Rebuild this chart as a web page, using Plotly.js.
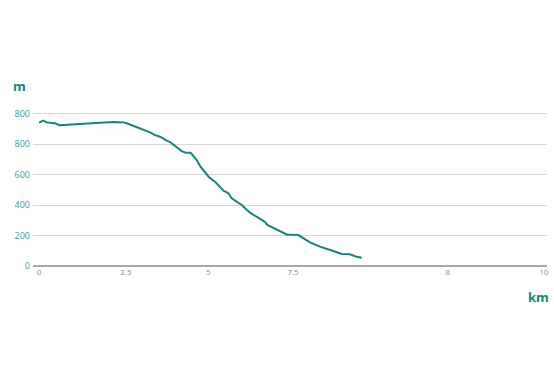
<!DOCTYPE html>
<html>
<head>
<meta charset="utf-8">
<script src="https://cdn.plot.ly/plotly-3.0.1.min.js"></script>
<style>html,body{margin:0;padding:0;background:#fff;}#chart{width:554px;height:369px;}</style>
</head>
<body>
<div id="chart"></div>
<script>
// distance (km) along axis
var distance = [0, 0.085, 0.152, 0.283, 0.317, 0.402, 0.481, 0.812, 1.208, 1.471, 1.669, 1.737, 2.0, 2.198, 2.297, 2.396, 2.529, 2.594, 2.832, 2.911, 3.004, 3.123, 3.188, 3.362, 3.485, 3.584, 3.650, 3.749, 3.816, 4.014, 4.178, 4.410, 4.475, 4.521, 4.772, 4.905, 5.135, 5.234, 5.366, 5.564, 5.697, 5.828, 5.994, 6.158, 6.291, 6.390];
// elevation (m)
var elevation = [940, 953, 942, 940, 936, 923, 925, 931, 940, 945, 942, 936, 903, 877, 858, 848, 822, 813, 752, 743, 742, 695, 656, 584, 553, 520, 495, 477, 444, 400, 350, 302, 289, 269, 232, 207, 203, 182, 155, 127, 110, 98, 79, 77, 60, 54];

var xTickVals = [0, 1.72, 3.35, 5.03, 8.09, 10];
var xTickText = ['0', '2.5', '5', '7.5', '8', '10'];
var yTickVals = [0, 200, 400, 600, 800, 1000];
var yTickText = ['0', '200', '400', '600', '800', '800'];

var teal = '#10857a';

var data = [{
  x: distance,
  y: elevation,
  type: 'scatter',
  mode: 'lines',
  line: {color: teal, width: 2, shape: 'linear'},
  hoverinfo: 'none'
}];

var layout = {
  width: 554,
  height: 369,
  margin: {l: 33, r: 7, t: 112, b: 103},
  paper_bgcolor: '#fff',
  plot_bgcolor: '#fff',
  showlegend: false,
  font: {family: 'Open Sans, sans-serif'},
  xaxis: {
    range: [-0.119, 10.06],
    tickvals: xTickVals,
    ticktext: xTickText,
    showgrid: false,
    zeroline: false,
    showline: false,
    ticks: '',
    tickfont: {size: 8, color: '#8a8a8a'},
    fixedrange: true
  },
  yaxis: {
    range: [0, 1010],
    tickvals: yTickVals,
    ticktext: yTickText,
    showgrid: true,
    gridcolor: '#d6d6d6',
    gridwidth: 1,
    zeroline: true,
    zerolinecolor: '#a8a8a8',
    zerolinewidth: 1.5,
    showline: false,
    ticks: '',
    ticklabelstandoff: 2,
    tickfont: {size: 9, color: '#3a9e92'},
    fixedrange: true
  },
  annotations: [
    {text: '<b>m</b>', xref: 'paper', yref: 'paper', x: -0.0253, y: 1.169, xanchor: 'center', yanchor: 'middle', showarrow: false, font: {size: 13, color: teal}},
    {text: '<b>km</b>', xref: 'paper', yref: 'paper', x: 0.984, y: -0.201, xanchor: 'center', yanchor: 'middle', showarrow: false, font: {size: 13, color: teal}}
  ]
};

Plotly.newPlot('chart', data, layout, {displayModeBar: false, staticPlot: true});
</script>
</body>
</html>
